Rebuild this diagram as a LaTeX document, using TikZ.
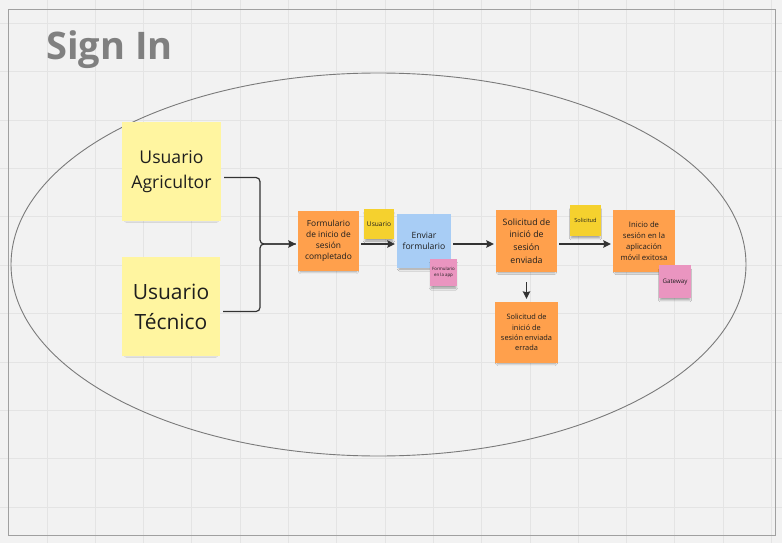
\documentclass[tikz,border=0pt]{standalone}
\usepackage{fontspec}
\setmainfont{Open Sans}
\usetikzlibrary{arrows.meta,shadows.blur,calc}
\definecolor{bgc}{HTML}{F2F2F2}
\definecolor{gridc}{HTML}{E4E4E4}
\definecolor{framec}{HTML}{A0A0A0}
\definecolor{titlec}{HTML}{808080}
\definecolor{ellc}{HTML}{7A7A7A}
\definecolor{lyellow}{HTML}{FFF5A0}
\definecolor{yellowc}{HTML}{F5D12E}
\definecolor{orangec}{HTML}{FFA04C}
\definecolor{bluec}{HTML}{A8CDF5}
\definecolor{pinkc}{HTML}{EA95C0}
\definecolor{textc}{HTML}{1E1E1E}
\definecolor{arrowc}{HTML}{333333}
\tikzset{
  note/.style={rectangle, inner sep=0pt, align=center, text=textc,
    blur shadow={shadow xshift=0pt, shadow yshift=-3.5pt, shadow scale=0.92, shadow opacity=35, shadow blur steps=6}},
  conn/.style={draw=arrowc, line width=1.2pt, -{Stealth[length=7.5pt,width=7.5pt,inset=1pt]}},
  plain/.style={draw=arrowc, line width=1.2pt},
}
\begin{document}
\begin{tikzpicture}[x=1pt,y=-1pt]
\useasboundingbox (0,0) rectangle (782,543);
\fill[bgc] (0,0) rectangle (782,543);
% grid
\foreach \i in {0,...,15} \draw[gridc, line width=0.9pt] (47+48.3*\i,0) -- (47+48.3*\i,543);
\foreach \i in {0,...,10} \draw[gridc, line width=0.9pt] (0,23.3+48.4*\i) -- (782,23.3+48.4*\i);
% frame
\draw[framec, line width=1.3pt] (8.5,9.3) rectangle (775.3,535.3);
% title
\node[anchor=base west, inner sep=0pt, text=titlec, font=\fontsize{38}{44}\selectfont\bfseries] (title) at (46,59.3) {Sign In};
% ellipse
\draw[ellc, line width=0.9pt] (378.5,264.5) ellipse [x radius=367.5, y radius=191.5];

% sticky notes
\node[note, fill=lyellow, minimum width=99pt, minimum height=99pt, font=\fontsize{17.6}{25}\selectfont] (agri) at (171.5,171.5) {Usuario\\Agricultor};
\node[note, fill=lyellow, minimum width=98pt, minimum height=99pt, font=\fontsize{21}{30}\selectfont] (tec) at (171,306.5) {Usuario\\Técnico};
\node[note, fill=orangec, minimum width=61pt, minimum height=60pt, font=\fontsize{8.4}{10.9}\selectfont] (form) at (328.5,241) {Formulario\\de inicio de\\sesión\\completado};
\node[note, fill=yellowc, minimum width=30pt, minimum height=30pt, font=\fontsize{6.6}{8}\selectfont] (usr) at (379,224) {Usuario};
\node[note, fill=bluec, minimum width=54pt, minimum height=54pt, font=\fontsize{8.6}{11.7}\selectfont] (env) at (424,241) {Enviar\\formulario};
\node[note, fill=pinkc, minimum width=27pt, minimum height=27pt, font=\fontsize{4.4}{6}\selectfont] (fapp) at (443.5,272.5) {Formulario\\en la app};
\node[note, fill=orangec, minimum width=61pt, minimum height=62pt, font=\fontsize{8.8}{12.8}\selectfont] (sol) at (526.5,241) {Solicitud de\\inició de\\sesión\\enviada};
\node[note, fill=yellowc, minimum width=31pt, minimum height=31pt, font=\fontsize{5.6}{7}\selectfont] (soltag) at (585.5,220.5) {Solicitud};
\node[note, fill=orangec, minimum width=62pt, minimum height=62pt, font=\fontsize{7.7}{11}\selectfont] (ini) at (644,241) {Inicio de\\sesión en la\\aplicación\\móvil exitosa};
\node[note, fill=pinkc, minimum width=32pt, minimum height=33pt, font=\fontsize{6.2}{7.5}\selectfont] (gw) at (675,281.5) {Gateway};
\node[note, fill=orangec, minimum width=63pt, minimum height=61pt, font=\fontsize{7.4}{10.3}\selectfont] (err) at (526.5,332.5) {Solicitud de\\inició de\\sesión enviada\\errada};

% connectors
\coordinate (j) at (260,244);
\draw[plain, rounded corners=4pt] ([shift={(3,6)}]agri.east) -| (j) -- ([shift={(-2,3)}]form.west);
\draw[conn, rounded corners=4pt] ([shift={(3,5)}]tec.east) -| (j) -- ([shift={(-2,3)}]form.west);
\draw[conn] ([shift={(2,3)}]form.east) -- ([shift={(-2,3)}]env.west);
\draw[conn] ([shift={(2,3)}]env.east) -- ([shift={(-2,3)}]sol.west);
\draw[conn] ([shift={(2,3)}]sol.east) -- ([shift={(-2,3)}]ini.west);
\draw[conn] ([shift={(0,10)}]sol.south) -- ([shift={(0,-3)}]err.north);
\end{tikzpicture}
\end{document}
